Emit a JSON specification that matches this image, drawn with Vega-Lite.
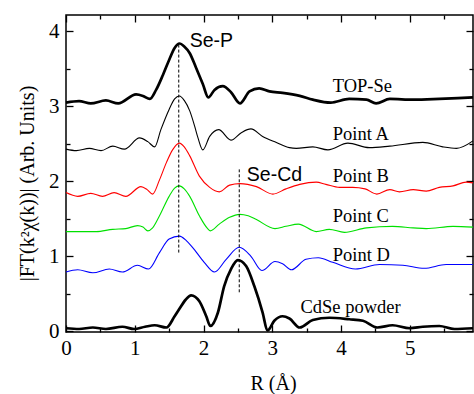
{
  "$schema": "https://vega.github.io/schema/vega-lite/v6.json",
  "width": 407,
  "height": 317,
  "autosize": "none",
  "padding": {"left": 66, "top": 15, "right": 1, "bottom": 62},
  "background": "white",
  "config": {
    "view": {"stroke": "black", "strokeWidth": 1.5},
    "axis": {
      "domain": false,
      "grid": false,
      "tickColor": "black",
      "tickWidth": 1.3,
      "labelFont": "Liberation Serif",
      "labelFontSize": 21,
      "labelColor": "black",
      "labelOverlap": false,
      "labelFlush": false,
      "titleFont": "Liberation Serif",
      "titleFontWeight": "normal",
      "titleColor": "black"
    }
  },
  "datasets": {
    "curves": [
      {"series":"TOP-Se","R":0,"v":3.05},{"series":"TOP-Se","R":0.19,"v":3.07},{"series":"TOP-Se","R":0.36,"v":3.04},{"series":"TOP-Se","R":0.58,"v":3.08},{"series":"TOP-Se","R":0.76,"v":3.04},{"series":"TOP-Se","R":1.02,"v":3.16},{"series":"TOP-Se","R":1.12,"v":3.14},{"series":"TOP-Se","R":1.22,"v":3.1},{"series":"TOP-Se","R":1.31,"v":3.22},{"series":"TOP-Se","R":1.41,"v":3.42},{"series":"TOP-Se","R":1.5,"v":3.62},{"series":"TOP-Se","R":1.58,"v":3.78},{"series":"TOP-Se","R":1.65,"v":3.84},{"series":"TOP-Se","R":1.72,"v":3.8},{"series":"TOP-Se","R":1.8,"v":3.71},{"series":"TOP-Se","R":1.89,"v":3.52},{"series":"TOP-Se","R":1.99,"v":3.3},{"series":"TOP-Se","R":2.07,"v":3.12},{"series":"TOP-Se","R":2.16,"v":3.22},{"series":"TOP-Se","R":2.28,"v":3.27},{"series":"TOP-Se","R":2.4,"v":3.19},{"series":"TOP-Se","R":2.53,"v":3.04},{"series":"TOP-Se","R":2.67,"v":3.2},{"series":"TOP-Se","R":2.81,"v":3.24},{"series":"TOP-Se","R":2.96,"v":3.2},{"series":"TOP-Se","R":3.15,"v":3.18},{"series":"TOP-Se","R":3.4,"v":3.14},{"series":"TOP-Se","R":3.59,"v":3.09},{"series":"TOP-Se","R":3.85,"v":3.05},{"series":"TOP-Se","R":4.12,"v":3.1},{"series":"TOP-Se","R":4.37,"v":3.09},{"series":"TOP-Se","R":4.51,"v":3.04},{"series":"TOP-Se","R":4.71,"v":3.1},{"series":"TOP-Se","R":5.05,"v":3.09},{"series":"TOP-Se","R":5.43,"v":3.1},{"series":"TOP-Se","R":5.7,"v":3.11},{"series":"TOP-Se","R":5.92,"v":3.12},

      {"series":"Point A","R":0,"v":2.43},{"series":"Point A","R":0.15,"v":2.41},{"series":"Point A","R":0.34,"v":2.44},{"series":"Point A","R":0.51,"v":2.41},{"series":"Point A","R":0.68,"v":2.47},{"series":"Point A","R":0.85,"v":2.43},{"series":"Point A","R":1.07,"v":2.58},{"series":"Point A","R":1.19,"v":2.53},{"series":"Point A","R":1.29,"v":2.46},{"series":"Point A","R":1.38,"v":2.69},{"series":"Point A","R":1.5,"v":2.96},{"series":"Point A","R":1.58,"v":3.1},{"series":"Point A","R":1.65,"v":3.14},{"series":"Point A","R":1.72,"v":3.08},{"series":"Point A","R":1.8,"v":2.94},{"series":"Point A","R":1.87,"v":2.74},{"series":"Point A","R":1.92,"v":2.58},{"series":"Point A","R":1.99,"v":2.42},{"series":"Point A","R":2.09,"v":2.6},{"series":"Point A","R":2.22,"v":2.69},{"series":"Point A","R":2.4,"v":2.55},{"series":"Point A","R":2.55,"v":2.65},{"series":"Point A","R":2.69,"v":2.7},{"series":"Point A","R":2.86,"v":2.6},{"series":"Point A","R":3.06,"v":2.52},{"series":"Point A","R":3.25,"v":2.45},{"series":"Point A","R":3.35,"v":2.44},{"series":"Point A","R":3.59,"v":2.46},{"series":"Point A","R":3.81,"v":2.42},{"series":"Point A","R":4.1,"v":2.51},{"series":"Point A","R":4.41,"v":2.45},{"series":"Point A","R":4.71,"v":2.47},{"series":"Point A","R":5.19,"v":2.52},{"series":"Point A","R":5.48,"v":2.46},{"series":"Point A","R":5.68,"v":2.44},{"series":"Point A","R":5.92,"v":2.54},

      {"series":"Point B","R":0,"v":1.85},{"series":"Point B","R":0.17,"v":1.8},{"series":"Point B","R":0.36,"v":1.84},{"series":"Point B","R":0.53,"v":1.8},{"series":"Point B","R":0.7,"v":1.85},{"series":"Point B","R":0.87,"v":1.8},{"series":"Point B","R":1.09,"v":1.93},{"series":"Point B","R":1.18,"v":1.89},{"series":"Point B","R":1.26,"v":1.83},{"series":"Point B","R":1.36,"v":2.02},{"series":"Point B","R":1.46,"v":2.25},{"series":"Point B","R":1.55,"v":2.42},{"series":"Point B","R":1.65,"v":2.51},{"series":"Point B","R":1.72,"v":2.46},{"series":"Point B","R":1.8,"v":2.34},{"series":"Point B","R":1.94,"v":2.07},{"series":"Point B","R":2.09,"v":1.92},{"series":"Point B","R":2.23,"v":1.86},{"series":"Point B","R":2.38,"v":1.95},{"series":"Point B","R":2.53,"v":1.97},{"series":"Point B","R":2.77,"v":1.93},{"series":"Point B","R":3.01,"v":1.83},{"series":"Point B","R":3.2,"v":1.9},{"series":"Point B","R":3.4,"v":1.96},{"series":"Point B","R":3.64,"v":1.99},{"series":"Point B","R":3.78,"v":1.96},{"series":"Point B","R":3.98,"v":1.92},{"series":"Point B","R":4.17,"v":1.92},{"series":"Point B","R":4.35,"v":1.9},{"series":"Point B","R":4.52,"v":1.83},{"series":"Point B","R":4.71,"v":1.89},{"series":"Point B","R":4.85,"v":1.86},{"series":"Point B","R":5.05,"v":1.89},{"series":"Point B","R":5.24,"v":1.87},{"series":"Point B","R":5.43,"v":1.92},{"series":"Point B","R":5.63,"v":1.94},{"series":"Point B","R":5.82,"v":1.99},{"series":"Point B","R":5.92,"v":1.98},

      {"series":"Point C","R":0,"v":1.33},{"series":"Point C","R":0.44,"v":1.33},{"series":"Point C","R":0.68,"v":1.36},{"series":"Point C","R":0.87,"v":1.37},{"series":"Point C","R":1.04,"v":1.41},{"series":"Point C","R":1.12,"v":1.39},{"series":"Point C","R":1.19,"v":1.34},{"series":"Point C","R":1.26,"v":1.38},{"series":"Point C","R":1.36,"v":1.54},{"series":"Point C","R":1.5,"v":1.8},{"series":"Point C","R":1.58,"v":1.91},{"series":"Point C","R":1.65,"v":1.94},{"series":"Point C","R":1.72,"v":1.9},{"series":"Point C","R":1.8,"v":1.8},{"series":"Point C","R":1.94,"v":1.54},{"series":"Point C","R":2.06,"v":1.37},{"series":"Point C","R":2.1,"v":1.34},{"series":"Point C","R":2.23,"v":1.43},{"series":"Point C","R":2.38,"v":1.52},{"series":"Point C","R":2.53,"v":1.56},{"series":"Point C","R":2.65,"v":1.54},{"series":"Point C","R":2.77,"v":1.49},{"series":"Point C","R":3.04,"v":1.37},{"series":"Point C","R":3.2,"v":1.4},{"series":"Point C","R":3.38,"v":1.43},{"series":"Point C","R":3.64,"v":1.33},{"series":"Point C","R":3.83,"v":1.36},{"series":"Point C","R":4.05,"v":1.32},{"series":"Point C","R":4.37,"v":1.38},{"series":"Point C","R":4.75,"v":1.4},{"series":"Point C","R":5.05,"v":1.38},{"series":"Point C","R":5.24,"v":1.37},{"series":"Point C","R":5.63,"v":1.4},{"series":"Point C","R":5.92,"v":1.39},

      {"series":"Point D","R":0,"v":0.79},{"series":"Point D","R":0.17,"v":0.82},{"series":"Point D","R":0.39,"v":0.78},{"series":"Point D","R":0.63,"v":0.83},{"series":"Point D","R":0.82,"v":0.79},{"series":"Point D","R":1.04,"v":0.88},{"series":"Point D","R":1.2,"v":0.83},{"series":"Point D","R":1.36,"v":1.05},{"series":"Point D","R":1.5,"v":1.23},{"series":"Point D","R":1.65,"v":1.27},{"series":"Point D","R":1.75,"v":1.21},{"series":"Point D","R":1.84,"v":1.12},{"series":"Point D","R":2.01,"v":0.92},{"series":"Point D","R":2.16,"v":0.79},{"series":"Point D","R":2.33,"v":0.96},{"series":"Point D","R":2.52,"v":1.12},{"series":"Point D","R":2.69,"v":1.0},{"series":"Point D","R":2.85,"v":0.81},{"series":"Point D","R":3.04,"v":0.93},{"series":"Point D","R":3.15,"v":0.9},{"series":"Point D","R":3.28,"v":0.82},{"series":"Point D","R":3.49,"v":0.96},{"series":"Point D","R":3.67,"v":0.98},{"series":"Point D","R":3.88,"v":0.92},{"series":"Point D","R":4.21,"v":0.83},{"series":"Point D","R":4.56,"v":0.89},{"series":"Point D","R":4.9,"v":0.88},{"series":"Point D","R":5.21,"v":0.84},{"series":"Point D","R":5.53,"v":0.89},{"series":"Point D","R":5.92,"v":0.89},

      {"series":"CdSe powder","R":0,"v":0.04},{"series":"CdSe powder","R":0.19,"v":0.03},{"series":"CdSe powder","R":0.39,"v":0.05},{"series":"CdSe powder","R":0.58,"v":0.03},{"series":"CdSe powder","R":0.82,"v":0.06},{"series":"CdSe powder","R":0.99,"v":0.03},{"series":"CdSe powder","R":1.15,"v":0.06},{"series":"CdSe powder","R":1.29,"v":0.08},{"series":"CdSe powder","R":1.46,"v":0.05},{"series":"CdSe powder","R":1.58,"v":0.2},{"series":"CdSe powder","R":1.65,"v":0.3},{"series":"CdSe powder","R":1.74,"v":0.42},{"series":"CdSe powder","R":1.82,"v":0.48},{"series":"CdSe powder","R":1.94,"v":0.4},{"series":"CdSe powder","R":2.04,"v":0.2},{"series":"CdSe powder","R":2.1,"v":0.07},{"series":"CdSe powder","R":2.21,"v":0.25},{"series":"CdSe powder","R":2.3,"v":0.6},{"series":"CdSe powder","R":2.4,"v":0.83},{"series":"CdSe powder","R":2.5,"v":0.95},{"series":"CdSe powder","R":2.62,"v":0.87},{"series":"CdSe powder","R":2.74,"v":0.6},{"series":"CdSe powder","R":2.86,"v":0.25},{"series":"CdSe powder","R":2.93,"v":0.01},{"series":"CdSe powder","R":3.03,"v":0.14},{"series":"CdSe powder","R":3.15,"v":0.2},{"series":"CdSe powder","R":3.25,"v":0.17},{"series":"CdSe powder","R":3.4,"v":0.05},{"series":"CdSe powder","R":3.59,"v":0.15},{"series":"CdSe powder","R":3.83,"v":0.18},{"series":"CdSe powder","R":4.12,"v":0.16},{"series":"CdSe powder","R":4.32,"v":0.14},{"series":"CdSe powder","R":4.53,"v":0.05},{"series":"CdSe powder","R":4.75,"v":0.08},{"series":"CdSe powder","R":5.0,"v":0.04},{"series":"CdSe powder","R":5.19,"v":0.06},{"series":"CdSe powder","R":5.43,"v":0.07},{"series":"CdSe powder","R":5.65,"v":0.03},{"series":"CdSe powder","R":5.92,"v":0.04}
    ],
    "markers": [
      {"R":1.64,"lo":1.05,"hi":3.84},
      {"R":2.52,"lo":0.52,"hi":2.16}
    ],
    "serifLabels": [
      {"R":3.88,"v":3.27,"label":"TOP-Se"},
      {"R":3.88,"v":2.63,"label":"Point A"},
      {"R":3.88,"v":2.07,"label":"Point B"},
      {"R":3.88,"v":1.54,"label":"Point C"},
      {"R":3.88,"v":1.02,"label":"Point D"},
      {"R":3.41,"v":0.32,"label":"CdSe powder"}
    ],
    "sansLabels": [
      {"R":1.8,"v":3.87,"label":"Se-P"},
      {"R":2.63,"v":2.09,"label":"Se-Cd"}
    ]
  },
  "resolve": {"axis": {"x": "independent", "y": "independent"}},
  "layer": [
    {
      "data": {"name": "curves"},
      "transform": [{"filter": "datum.series !== 'TOP-Se' && datum.series !== 'CdSe powder'"}],
      "mark": {"type": "line", "interpolate": "monotone", "strokeWidth": 1.1},
      "encoding": {
        "x": {"field": "R", "type": "quantitative",
          "scale": {"domain": [0, 5.92], "nice": false, "zero": false},
          "axis": {"orient": "bottom", "values": [0,0.5,1,1.5,2,2.5,3,3.5,4,4.5,5,5.5],
            "labelExpr": "datum.value % 1 === 0 ? format(datum.value, 'd') : ''",
            "tickSize": {"condition": {"test": "datum.value % 1 === 0", "value": -7}, "value": -4},
            "labelPadding": 12,
            "title": "R (Å)", "titleFont": "Liberation Serif", "titleFontSize": 20, "titleFontWeight": "normal",
            "titleX": 207, "titleY": 51, "titleBaseline": "middle", "titleAlign": "center"}},
        "y": {"field": "v", "type": "quantitative",
          "scale": {"domain": [-0.01, 4.22], "nice": false, "zero": false},
          "axis": {"orient": "left", "values": [0,0.5,1,1.5,2,2.5,3,3.5,4],
            "labelExpr": "datum.value % 1 === 0 ? format(datum.value, 'd') : ''",
            "tickSize": {"condition": {"test": "datum.value % 1 === 0", "value": -7}, "value": -4},
            "labelPadding": 14,
            "title": "|FT(k²χ(k))| (Arb. Units)", "titleFont": "Liberation Serif", "titleFontSize": 20, "titleFontWeight": "normal",
            "titleX": -39, "titleY": 168, "titleAngle": -90, "titleBaseline": "middle", "titleAlign": "center"}},
        "detail": {"field": "series"},
        "color": {"field": "series", "type": "nominal", "legend": null,
          "scale": {"domain": ["Point A","Point B","Point C","Point D"],
                    "range": ["#000000","#ff0000","#00e000","#0000ff"]}}
      }
    },
    {
      "data": {"name": "curves"},
      "transform": [{"filter": "datum.series === 'TOP-Se' || datum.series === 'CdSe powder'"}],
      "mark": {"type": "line", "interpolate": "monotone", "strokeWidth": 2.7, "color": "black"},
      "encoding": {
        "x": {"field": "R", "type": "quantitative", "axis": null},
        "y": {"field": "v", "type": "quantitative", "axis": null},
        "detail": {"field": "series"}
      }
    },
    {
      "data": {"name": "markers"},
      "mark": {"type": "rule", "color": "black", "strokeWidth": 1, "strokeDash": [3, 2]},
      "encoding": {
        "x": {"field": "R", "type": "quantitative",
          "axis": {"orient": "top", "values": [0,0.5,1,1.5,2,2.5,3,3.5,4,4.5,5,5.5], "labels": false, "title": null,
            "tickSize": {"condition": {"test": "datum.value % 1 === 0", "value": -7}, "value": -4}}},
        "y": {"field": "lo", "type": "quantitative",
          "axis": {"orient": "right", "values": [0,0.5,1,1.5,2,2.5,3,3.5,4], "labels": false, "title": null,
            "tickSize": {"condition": {"test": "datum.value % 1 === 0", "value": -7}, "value": -4}}},
        "y2": {"field": "hi"}
      }
    },
    {
      "data": {"name": "serifLabels"},
      "mark": {"type": "text", "font": "Liberation Serif", "fontSize": 18.5, "align": "left", "baseline": "middle", "color": "black"},
      "encoding": {
        "x": {"field": "R", "type": "quantitative", "axis": null},
        "y": {"field": "v", "type": "quantitative", "axis": null},
        "text": {"field": "label"}
      }
    },
    {
      "data": {"name": "sansLabels"},
      "mark": {"type": "text", "font": "Liberation Sans", "fontSize": 19.5, "align": "left", "baseline": "middle", "color": "black"},
      "encoding": {
        "x": {"field": "R", "type": "quantitative", "axis": null},
        "y": {"field": "v", "type": "quantitative", "axis": null},
        "text": {"field": "label"}
      }
    }
  ]
}
